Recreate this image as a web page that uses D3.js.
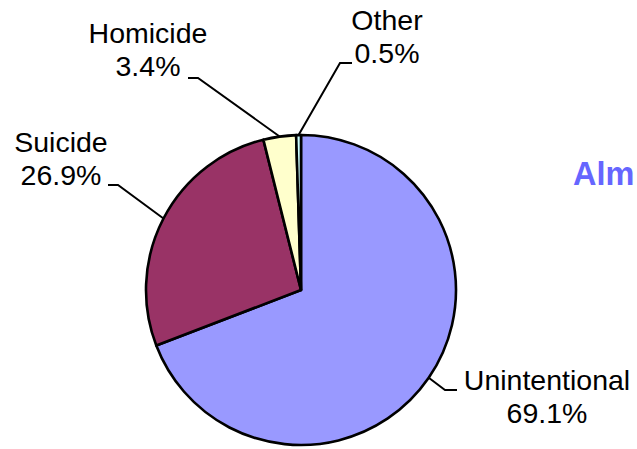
<!DOCTYPE html>
<html>
<head>
<meta charset="utf-8">
<script src="https://cdn.jsdelivr.net/npm/d3@7"></script>
<style>
  html, body { margin: 0; padding: 0; background: #ffffff; overflow: hidden; }
  svg { display: block; }
</style>
</head>
<body>
<svg id="chart" width="637" height="449"></svg>
<script>
// ---- data ----
const categories = ["Unintentional", "Suicide", "Homicide", "Other"];
const percents = [69.1, 26.9, 3.4, 0.5];
const percentLabels = ["69.1%", "26.9%", "3.4%", "0.5%"];
const sliceColors = ["#9999ff", "#993366", "#ffffcc", "#ccffff"];
// label layout (text anchor centre, first baseline) and leader elbow
const labelPos = [
  { x: 547, y: 390, elbow: [445, 390], end: [457, 390] },
  { x: 61,  y: 152, elbow: [118, 185], end: [108, 185] },
  { x: 148, y: 43,  elbow: [198, 78],  end: [188, 78] },
  { x: 387, y: 30,  elbow: [340, 63],  end: [352, 63] }
];
const titleText = "Alm";

// ---- drawing ----
const svg = d3.select("#chart");
const cx = 301, cy = 290, r = 155;

const rows = categories.map((c, i) => ({ name: c, value: percents[i], label: percentLabels[i], color: sliceColors[i], pos: labelPos[i] }));

const pie = d3.pie().sort(null).value(d => d.value);
const arc = d3.arc().innerRadius(0).outerRadius(r);
const arcs = pie(rows);

const g = svg.append("g").attr("transform", `translate(${cx},${cy})`);
g.selectAll("path.slice")
  .data(arcs)
  .join("path")
  .attr("class", "slice")
  .attr("d", arc)
  .attr("fill", d => d.data.color)
  .attr("stroke", "#000")
  .attr("stroke-width", 2.6)
  .attr("stroke-linejoin", "round");

// leader lines
svg.selectAll("polyline.leader")
  .data(arcs)
  .join("polyline")
  .attr("class", "leader")
  .attr("fill", "none")
  .attr("stroke", "#000")
  .attr("stroke-width", 2)
  .attr("points", d => {
    const a = (d.startAngle + d.endAngle) / 2;
    const px = cx + Math.sin(a) * r, py = cy - Math.cos(a) * r;
    const p = d.data.pos;
    return [[px, py], p.elbow, p.end].map(q => q.join(",")).join(" ");
  });

// labels
const font = "'Liberation Sans', Arial, sans-serif";
const lbl = svg.selectAll("text.lbl")
  .data(arcs)
  .join("text")
  .attr("class", "lbl")
  .attr("text-anchor", "middle")
  .attr("font-family", font)
  .attr("font-size", 28.5)
  .attr("fill", "#000");
lbl.append("tspan").attr("x", d => d.data.pos.x).attr("y", d => d.data.pos.y).text(d => d.data.name);
lbl.append("tspan").attr("x", d => d.data.pos.x).attr("y", d => d.data.pos.y + 33).text(d => d.data.label);

svg.append("text")
  .attr("x", 573).attr("y", 185)
  .attr("font-family", font)
  .attr("font-size", 32.5)
  .attr("font-weight", "bold")
  .attr("fill", "#6666ff")
  .text(titleText);
</script>
</body>
</html>
